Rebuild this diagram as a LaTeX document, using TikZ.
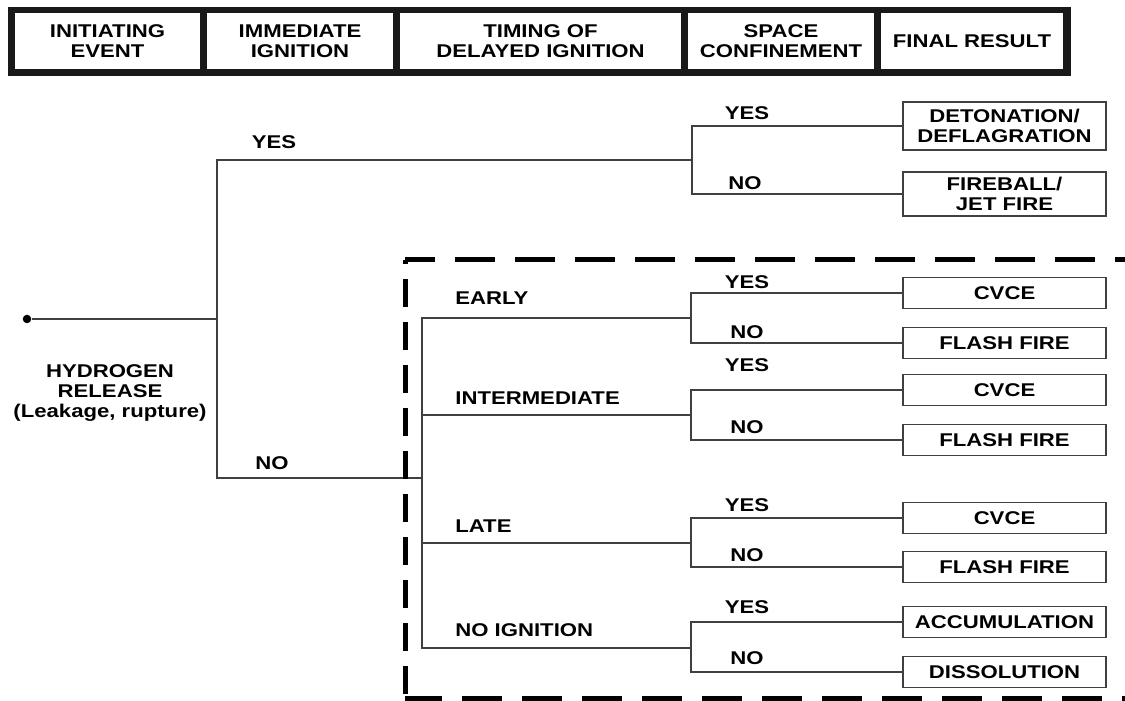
\documentclass[tikz,border=0pt]{standalone}
\usepackage{fontspec}
\setmainfont[FakeStretch=1.2]{Liberation Sans}
\usepackage{tikz}
\tikzset{
	tree/.style={line width=0.9pt, draw=black!75},
	txt/.style={inner sep=0, align=center},
	hcell/.style={fill=white, inner sep=0, minimum height=1.12cm, align=center},
	result/.style={draw=black!75, line width=0.9pt, fill=white, inner sep=0, minimum width=4.06cm, minimum height=0.62cm, align=center},
	frameH/.style={line width=0.1cm, dash pattern=on 0.8cm off 0.4cm},
	frameV/.style={line width=0.1cm, dash pattern=on 0.56cm off 0.3cm, dash phase=0.48cm}
}

\begin{document}
\begin{tikzpicture}[font=\bfseries\fontsize{10.5}{11.4}\selectfont]
			%%%%% START %%%%%
			\useasboundingbox (0, 0) rectangle (22.5, 14);
			
			\fill[black!90] (0.16, 12.48) rectangle (21.42, 13.86);
			\node[hcell, minimum width=3.70cm] (hEvent) at (2.15, 13.18) {INITIATING\\EVENT};
			\node[hcell, minimum width=3.72cm] (hImmediate) at (6.00, 13.18) {IMMEDIATE\\IGNITION};
			\node[hcell, minimum width=5.62cm] (hTiming) at (10.81, 13.18) {TIMING OF\\DELAYED IGNITION};
			\node[hcell, minimum width=3.72cm] (hSpace) at (15.62, 13.18) {SPACE\\CONFINEMENT};
			\node[hcell, minimum width=3.64cm] (hResult) at (19.44, 13.18) {FINAL RESULT};
			
			\node[fill=black, circle, inner sep=0, minimum size=0.17cm] (release) at (0.54, 7.62) {};
			\node[txt] (releaseText) at (2.20, 6.14) {HYDROGEN\\RELEASE\\(Leakage, rupture)};
			\coordinate (root) at (4.34, 7.62);
			\coordinate (immYes) at (13.84, 10.80);
			\coordinate (immNo) at (8.44, 4.44);
			\draw[tree] (release) -- (root);
			\draw[tree] (root) |- (immYes);
			\draw[tree] (root) |- (immNo);
			\node[txt] (lblImmYes) at (5.48, 11.16) {YES};
			\node[txt] (lblImmNo) at (5.44, 4.74) {NO};
			
			\node[result, minimum height=0.96cm] (detonation) at (20.09, 11.48) {DETONATION/\\DEFLAGRATION};
			\node[result, minimum height=0.88cm] (fireball) at (20.09, 10.12) {FIREBALL/\\JET FIRE};
			\draw[tree] (immYes) |- (detonation);
			\draw[tree] (immYes) |- (fireball);
			\node[txt] (lblDetYes) at (14.94, 11.74) {YES};
			\node[txt] (lblDetNo) at (14.90, 10.34) {NO};
			
			\coordinate (tEarly) at (13.82, 7.64);
			\coordinate (tInter) at (13.82, 5.70);
			\coordinate (tLate) at (13.82, 3.14);
			\coordinate (tNone) at (13.82, 1.04);
			\draw[tree] (immNo) |- (tEarly);
			\draw[tree] (immNo) |- (tInter);
			\draw[tree] (immNo) |- (tLate);
			\draw[tree] (immNo) |- (tNone);
			\node[txt, anchor=west] (lblEarly) at (9.10, 8.04) {EARLY};
			\node[txt, anchor=west] (lblInter) at (9.10, 6.04) {INTERMEDIATE};
			\node[txt, anchor=west] (lblLate) at (9.10, 3.48) {LATE};
			\node[txt, anchor=west] (lblNone) at (9.10, 1.40) {NO IGNITION};
			
			\node[result] (cvceEarly) at (20.09, 8.14) {CVCE};
			\node[result] (flashEarly) at (20.09, 7.14) {FLASH FIRE};
			\node[result] (cvceInter) at (20.09, 6.20) {CVCE};
			\node[result] (flashInter) at (20.09, 5.20) {FLASH FIRE};
			\node[result] (cvceLate) at (20.09, 3.64) {CVCE};
			\node[result] (flashLate) at (20.09, 2.66) {FLASH FIRE};
			\node[result] (accum) at (20.09, 1.56) {ACCUMULATION};
			\node[result] (dissol) at (20.09, 0.56) {DISSOLUTION};
			
			\draw[tree] (tEarly) |- (cvceEarly);
			\draw[tree] (tEarly) |- (flashEarly);
			\draw[tree] (tInter) |- (cvceInter);
			\draw[tree] (tInter) |- (flashInter);
			\draw[tree] (tLate) |- (cvceLate);
			\draw[tree] (tLate) |- (flashLate);
			\draw[tree] (tNone) |- (accum);
			\draw[tree] (tNone) |- (dissol);
			
			\node[txt] (yesEarly) at (14.94, 8.36) {YES};
			\node[txt] (noEarly) at (14.94, 7.36) {NO};
			\node[txt] (yesInter) at (14.94, 6.70) {YES};
			\node[txt] (noInter) at (14.94, 5.46) {NO};
			\node[txt] (yesLate) at (14.94, 3.90) {YES};
			\node[txt] (noLate) at (14.94, 2.90) {NO};
			\node[txt] (yesNone) at (14.94, 1.86) {YES};
			\node[txt] (noNone) at (14.94, 0.84) {NO};
			
			\draw[frameH, dash phase=0.2cm] (8.10, 8.80) -- (22.7, 8.80);
			\draw[frameV] (8.10, 8.80) -- (8.10, 0.04);
			\draw[frameH, dash phase=0.06cm] (8.10, 0.04) -- (22.7, 0.04);
			\draw[frameV] (22.56, 8.80) -- (22.56, 0.04);
			%%%%% END %%%%%
\end{tikzpicture}
\end{document}
